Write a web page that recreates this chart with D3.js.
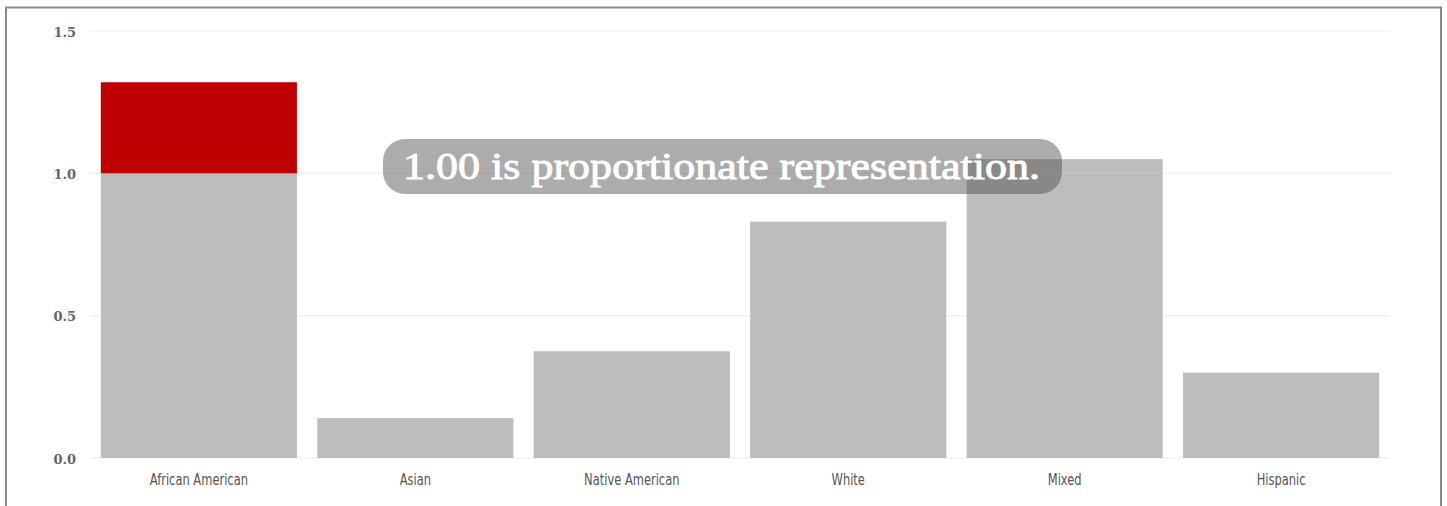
<!DOCTYPE html>
<html><head><meta charset="utf-8">
<script src="https://cdn.jsdelivr.net/npm/d3@7"></script>
<style>
html,body{margin:0;padding:0;background:#fff;}
</style></head>
<body>
<svg id="chart" width="1447" height="506"></svg>
<script>
const categories = ["African American","Asian","Native American","White","Mixed","Hispanic"];
const values = [1.32, 0.14, 0.375, 0.83, 1.05, 0.30];
const baseline = 1.0;
const yTicks = [0, 0.5, 1.0, 1.5];
const annotation = "1.00 is proportionate representation.";

const svg = d3.select("#chart");
// outer frame
svg.append("path").attr("d","M6,506 V7.5 H1441 V506").attr("fill","none").attr("stroke","#8a8a8a").attr("stroke-width",2);

const x = d3.scaleBand().domain(categories).range([90,1390]).paddingInner(0.094).paddingOuter(0.05);
const y = d3.scaleLinear().domain([0,1.5]).range([458,31]);

// gridlines
svg.append("g").selectAll("line").data(yTicks).join("line")
  .attr("x1",90).attr("x2",1390).attr("y1",d=>y(d)).attr("y2",d=>y(d))
  .attr("stroke","#ececec").attr("stroke-width",1);

// y axis
const yAxis = d3.axisLeft(y).tickValues(yTicks).tickFormat(d3.format(".1f")).tickSize(0).tickPadding(0);
const yg = svg.append("g").attr("transform","translate(76,0)").call(yAxis);
yg.select(".domain").remove();
yg.selectAll("text").attr("font-family","'DejaVu Serif', serif").attr("font-weight","bold")
  .attr("font-size","13px").attr("fill","#666").attr("dy","0.4em");

// bars (grey part up to baseline)
svg.append("g").selectAll("rect").data(categories).join("rect")
  .attr("x",d=>x(d)).attr("width",x.bandwidth())
  .attr("y",(d,i)=>y(Math.min(values[i],baseline)))
  .attr("height",(d,i)=>y(0)-y(Math.min(values[i],baseline)))
  .attr("fill","#bdbdbd");
// excess over-representation of first category (red)
svg.append("g").selectAll("rect").data(categories.filter((d,i)=>values[i]>baseline && i===0)).join("rect")
  .attr("x",d=>x(d)).attr("width",x.bandwidth())
  .attr("y",d=>y(values[categories.indexOf(d)]))
  .attr("height",d=>y(baseline)-y(values[categories.indexOf(d)]))
  .attr("fill","#c00000");
// other categories over 1.0 stay grey
svg.append("g").selectAll("rect").data(categories.filter((d,i)=>values[i]>baseline && i!==0)).join("rect")
  .attr("x",d=>x(d)).attr("width",x.bandwidth())
  .attr("y",d=>y(values[categories.indexOf(d)]))
  .attr("height",d=>y(baseline)-y(values[categories.indexOf(d)]))
  .attr("fill","#bdbdbd");

// x axis
const xAxis = d3.axisBottom(x).tickSize(0).tickPadding(0);
const xg = svg.append("g").attr("transform","translate(0,474)").call(xAxis);
xg.select(".domain").remove();
xg.selectAll("text").attr("font-family","'DejaVu Sans Condensed','DejaVu Sans',sans-serif")
  .attr("font-size","15px").attr("fill","#555").attr("dy","0.71em")
  .each(function(){ const w=this.getComputedTextLength(); d3.select(this).attr("textLength",w*0.85).attr("lengthAdjust","spacingAndGlyphs"); });

// annotation
const ag = svg.append("g");
ag.append("rect").attr("x",383).attr("y",139).attr("width",679).attr("height",55).attr("rx",22)
  .attr("fill","rgba(70,70,70,0.45)");
ag.append("text").attr("x",403).attr("y",179).text(annotation)
  .attr("font-family","'Liberation Serif',serif").attr("font-weight","normal").attr("font-size","37px")
  .attr("fill","#fff").attr("stroke","#fff").attr("stroke-width",0.9)
  .attr("textLength",637).attr("lengthAdjust","spacingAndGlyphs");
</script>
</body></html>
